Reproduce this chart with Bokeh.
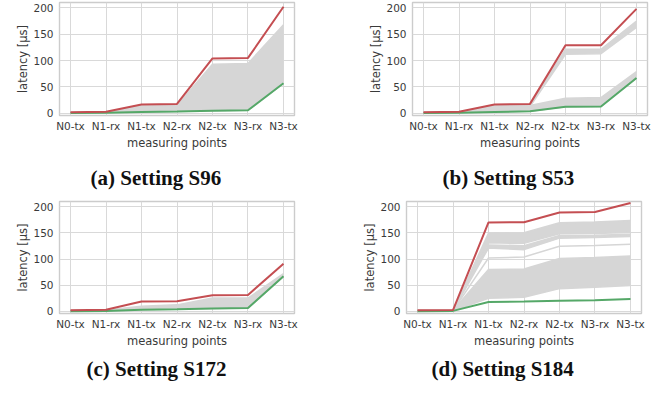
from bokeh.plotting import figure
from bokeh.layouts import column, row
from bokeh.models import FixedTicker, Range1d
from bokeh.embed import file_html
from bokeh.resources import INLINE

# ---------------- data ----------------
points = ["N0-tx", "N1-rx", "N1-tx", "N2-rx", "N2-tx", "N3-rx", "N3-tx"]
y_ticks = [0, 50, 100, 150, 200]

# Setting S96
s96_max = [2, 3, 17, 18, 104, 105, 202]
s96_min = [0.5, 1, 2.5, 3.5, 5, 6, 57]
s96_band_hi = [1.5, 2.5, 14.5, 15, 93, 94.5, 168]
s96_band_lo = [0.5, 1, 2.5, 3.5, 5, 6, 57]

# Setting S53
s53_max = [2, 3, 17, 18, 129, 129, 198]
s53_min = [0.5, 1, 2.5, 4, 12.5, 13, 67]
s53_upper_hi = [1.5, 2.5, 14.5, 15.5, 121.5, 121.5, 175]
s53_upper_lo = [1, 2, 12, 13, 112, 113, 163]
s53_lower_hi = [1.5, 2.5, 14, 15, 28.5, 30, 79]
s53_lower_lo = [0.5, 1, 2.5, 4, 12.5, 13, 67]

# Setting S172
s172_max = [2, 3, 19, 19.5, 31, 31.5, 91]
s172_min = [0.5, 1, 3, 4, 5.5, 6.5, 67]
s172_band_hi = [1.5, 2.5, 10, 12.5, 25.5, 25.5, 72]
s172_band_lo = [0.5, 1, 3, 4, 5.5, 6.5, 67]

# Setting S184
s184_max = [2, 2.5, 170, 170.5, 189, 190, 207]
s184_min = [0.5, 1, 18, 19, 20.5, 21.5, 23.5]
s184_top_hi = [1.5, 2, 149.5, 150.5, 169.5, 171, 173.5]
s184_top_lo = [1, 1.5, 131, 130, 148.5, 149, 151]
s184_mid_hi = [1, 1.5, 127, 125.5, 145, 145.5, 147.5]
s184_mid_lo = [1, 1.5, 121, 118, 140, 141, 143]
s184_line = [1, 1.5, 102, 104, 124.5, 126, 128.5]
s184_low_hi = [1.5, 2, 80, 81, 101, 103, 106]
s184_low_lo = [0.5, 1, 25, 27, 43.5, 46, 49.5]

captions = ["(a) Setting S96", "(b) Setting S53", "(c) Setting S172", "(d) Setting S184"]

# ---------------- styling ----------------
RED = "#c44e52"
GREEN = "#55a868"
GREY = "#d6d6d6"
x_pos = list(range(len(points)))


def make_panel(caption, maxv, minv, bands, lines, left, right, top, bottom, height,
               cap_offset, cap_standoff):
    p = figure(width=327, height=height, output_backend="svg", toolbar_location=None,
               x_range=Range1d(-0.31, 6.31), y_range=Range1d(-4, 210),
               min_border_left=left, min_border_right=right,
               min_border_top=top, min_border_bottom=bottom,
               title=caption, title_location="below")
    p.background_fill_color = "white"
    p.border_fill_color = "white"
    p.outline_line_color = "#cccccc"
    p.outline_line_width = 1.4

    p.xaxis.ticker = FixedTicker(ticks=x_pos)
    p.xaxis.major_label_overrides = {i: s for i, s in enumerate(points)}
    p.yaxis.ticker = FixedTicker(ticks=y_ticks)
    p.axis.axis_line_color = None
    p.axis.major_tick_line_color = None
    p.axis.minor_tick_line_color = None
    p.axis.major_tick_out = 0
    p.axis.major_tick_in = 0
    p.axis.major_label_text_font = "DejaVu Sans"
    p.axis.major_label_text_font_size = "10.5px"
    p.axis.major_label_text_color = "#3a3a3a"
    p.xaxis.major_label_standoff = 4
    p.yaxis.major_label_standoff = 6
    p.xaxis.axis_label = "measuring points"
    p.yaxis.axis_label = "latency [μs]"
    p.axis.axis_label_text_font = "DejaVu Sans"
    p.axis.axis_label_text_font_style = "normal"
    p.axis.axis_label_text_font_size = "11.5px"
    p.axis.axis_label_text_color = "#3a3a3a"
    p.xaxis.axis_label_standoff = 1
    p.yaxis.axis_label_standoff = 0

    p.grid.grid_line_color = "#d9d9d9"
    p.grid.grid_line_width = 1

    p.title.text_font = "Liberation Serif"
    p.title.text_font_style = "bold"
    p.title.text_font_size = "21px"
    p.title.text_color = "#111111"
    p.title.align = "left"
    p.title.offset = cap_offset
    p.title.standoff = cap_standoff

    for hi, lo in bands:
        p.varea(x=x_pos, y1=lo, y2=hi, fill_color=GREY)
        p.line(x_pos, hi, line_color=GREY, line_width=1.5)
        p.line(x_pos, lo, line_color=GREY, line_width=1.5)
    for ln in lines:
        p.line(x_pos, ln, line_color=GREY, line_width=1.5)
    p.line(x_pos, minv, line_color=GREEN, line_width=2)
    p.line(x_pos, maxv, line_color=RED, line_width=2)
    return p


pa = make_panel(captions[0], s96_max, s96_min, [(s96_band_hi, s96_band_lo)], [],
                59, 33, 2, 84, 200, 31, 22)
pb = make_panel(captions[1], s53_max, s53_min,
                [(s53_upper_hi, s53_upper_lo), (s53_lower_hi, s53_lower_lo)], [],
                85, 7, 2, 84, 200, 30, 22)
pc = make_panel(captions[2], s172_max, s172_min, [(s172_band_hi, s172_band_lo)], [],
                59, 33, 1, 69, 184, 27, 8)
pd = make_panel(captions[3], s184_max, s184_min,
                [(s184_top_hi, s184_top_lo), (s184_mid_hi, s184_mid_lo), (s184_low_hi, s184_low_lo)],
                [s184_line], 79, 13, 1, 69, 184, 25, 8)

layout = column(row(pa, pb), row(pc, pd))
open("out.html", "w").write(file_html(layout, INLINE))
